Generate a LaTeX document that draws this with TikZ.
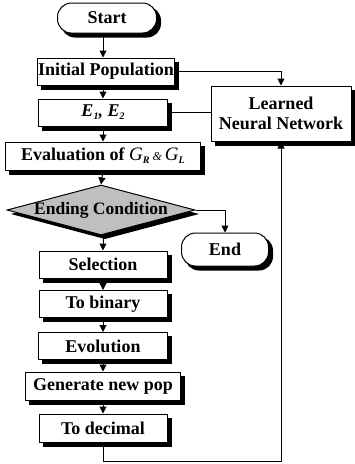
\documentclass[tikz,border=0pt]{standalone}
\usepackage{fontspec}
\setmainfont{Liberation Serif}
\usetikzlibrary{shapes.geometric,arrows.meta}
\newcommand\subtxt[1]{\raisebox{-0.35ex}{\fontsize{10}{10}\selectfont\itshape #1}}
\begin{document}
\begin{tikzpicture}[x=1pt,y=-1pt,
  box/.style={draw,line width=1pt,fill=white,minimum height=27pt,inner sep=1pt,
    font=\fontsize{18}{20}\bfseries\selectfont},
  pill/.style={box,rounded corners=14pt},
  cond/.style={draw,line width=1pt,fill=black!25,shape=diamond,inner sep=0pt,
    minimum width=188pt,minimum height=50pt,font=\fontsize{17.5}{20}\bfseries\selectfont},
  shrect/.style={fill=black,draw=none,inner sep=0pt,outer sep=0pt},
  arr/.style={line width=1pt,-{Triangle[length=7pt,width=7pt]}},
  ln/.style={line width=1pt}]
\fill[white] (0,0) rectangle (355,464);
\useasboundingbox (0,0) rectangle (355,464);
% shadows (offset 4pt right and down)
\node[shrect,rounded corners=14pt,minimum width=100pt,minimum height=31pt] (shstart) at (111,22) {};
\node[shrect,minimum width=138pt,minimum height=28pt] (shinit) at (110,75.5) {};
\node[shrect,minimum width=130pt,minimum height=28pt] (she12) at (107,116.5) {};
\node[shrect,minimum width=141pt,minimum height=56pt] (shnn) at (285,117.5) {};
\node[shrect,minimum width=196pt,minimum height=29pt] (sheval) at (107,160) {};
\node[shrect,shape=diamond,minimum width=188pt,minimum height=50pt] (shcond) at (105,214) {};
\node[shrect,rounded corners=14pt,minimum width=88pt,minimum height=34pt] (shend) at (229,253.5) {};
\node[shrect,minimum width=129pt,minimum height=28pt] (shsel) at (107,268.5) {};
\node[shrect,minimum width=129pt,minimum height=28pt] (shbin) at (107,308) {};
\node[shrect,minimum width=130pt,minimum height=28pt] (shevo) at (107,350) {};
\node[shrect,minimum width=156pt,minimum height=29pt] (shgen) at (107,390) {};
\node[shrect,minimum width=129pt,minimum height=29pt] (shdec) at (107,432) {};

\node[pill,minimum width=99pt,minimum height=30pt] (start) at (107,18) {Start};
\node[box,minimum width=137pt] (init) at (106,71.5) {Initial Population};
\node[box,minimum width=129pt] (e12) at (103,112.5)
  {\itshape E\subtxt{\bfseries 1}, E\subtxt{\bfseries 2}};
\node[box,minimum width=140pt,minimum height=55pt,align=center] (nn) at (281,113.5)
  {Learned\\Neural Network};
\node[box,minimum width=195pt,minimum height=28pt] (eval) at (103,156)
  {Evaluation of {\fontsize{19}{20}\mdseries\itshape G}\subtxt{R}\,{\fontsize{12}{12}\mdseries\itshape\&}\,{\fontsize{19}{20}\mdseries\itshape G}\subtxt{L}};
\node[cond] (ending) at (101,210) {\makebox[0pt]{Ending Condition}};
\node[pill,minimum width=87pt,minimum height=33pt] (end) at (225,249.5) {End};
\node[box,minimum width=128pt] (sel) at (103,264.5) {Selection};
\node[box,minimum width=128pt] (bin) at (103,304) {To binary};
\node[box,minimum width=129pt] (evo) at (103,346) {Evolution};
\node[box,minimum width=155pt,minimum height=28pt] (gen) at (103,386) {Generate new pop};
\node[box,minimum width=128pt,minimum height=28pt] (dec) at (103,428) {To decimal};

\draw[arr] (start.south -| e12.north) -- (init.north -| e12.north);
\draw[arr] (init.south -| e12.north) -- (e12.north);
\draw[arr] (e12.south) -- (eval.north);
\draw[arr] (eval.south) -- (ending.north);
\draw[arr] (ending.south -| sel.north) -- (sel.north);
\draw[arr] (sel.south) -- (bin.north);
\draw[arr] (bin.south) -- (evo.north);
\draw[arr] (evo.south) -- (gen.north);
\draw[arr] (gen.south) -- (dec.north);
\draw[arr] (init.east) -| (nn.north);
\draw[ln] (e12.east -| nn.west) -- (e12.east);
\draw[arr] (ending.east) -| (end.north);
\draw[arr] (dec.south) -- ++(0,19) -| (nn.south);
\end{tikzpicture}
\end{document}
